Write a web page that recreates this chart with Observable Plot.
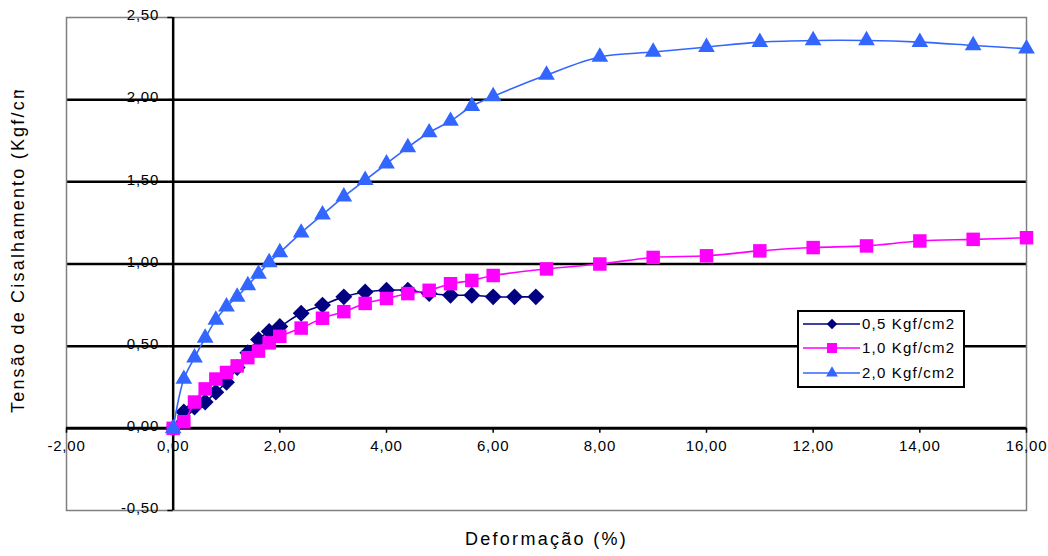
<!DOCTYPE html>
<html><head><meta charset="utf-8">
<script src="https://cdn.jsdelivr.net/npm/d3@7"></script>
<script src="https://cdn.jsdelivr.net/npm/@observablehq/plot@0.6"></script>
<style>
body{margin:0;background:#fff;}
#wrap{position:relative;width:1048px;height:556px;font-family:"Liberation Sans",Arial,sans-serif;}
#ytitle{position:absolute;left:6px;top:413px;width:323px;height:24px;line-height:24px;overflow:hidden;white-space:nowrap;transform-origin:0 0;transform:rotate(-90deg);font-size:18px;letter-spacing:2.2px;color:#000;}
#legend{position:absolute;left:797px;top:310px;width:164px;height:74px;border:2px solid #000;background:#fff;}
#legend .row{position:absolute;left:0;height:20px;width:164px;}
#legend .row svg{position:absolute;left:4px;top:0;}
#legend .row span{position:absolute;left:63px;top:0;line-height:20px;font-size:15px;letter-spacing:1.2px;white-space:nowrap;}
</style></head><body><div id="wrap"></div>
<script>
// ---- data ----
const seriesNames = ["0,5 Kgf/cm2", "1,0 Kgf/cm2", "2,0 Kgf/cm2"];
const strain05 = [0,0.2,0.4,0.6,0.8,1.0,1.2,1.4,1.6,1.8,2.0,2.4,2.8,3.2,3.6,4.0,4.4,4.8,5.2,5.6,6.0,6.4,6.8];
const stress05 = [0,0.10,0.13,0.16,0.22,0.28,0.37,0.46,0.54,0.59,0.62,0.70,0.75,0.80,0.83,0.84,0.84,0.82,0.81,0.81,0.80,0.80,0.80];
const strain10 = [0,0.2,0.4,0.6,0.8,1.0,1.2,1.4,1.6,1.8,2.0,2.4,2.8,3.2,3.6,4.0,4.4,4.8,5.2,5.6,6.0,7,8,9,10,11,12,13,14,15,16];
const stress10 = [0,0.04,0.16,0.24,0.30,0.34,0.38,0.43,0.47,0.52,0.56,0.61,0.67,0.71,0.76,0.79,0.82,0.84,0.88,0.90,0.93,0.97,1.00,1.04,1.05,1.08,1.10,1.11,1.14,1.15,1.16];
const strain20 = [0,0.2,0.4,0.6,0.8,1.0,1.2,1.4,1.6,1.8,2.0,2.4,2.8,3.2,3.6,4.0,4.4,4.8,5.2,5.6,6.0,7,8,9,10,11,12,13,14,15,16];
const stress20 = [0,0.30,0.43,0.55,0.66,0.74,0.80,0.87,0.94,1.01,1.07,1.19,1.30,1.41,1.51,1.61,1.71,1.80,1.87,1.96,2.02,2.15,2.26,2.29,2.32,2.35,2.36,2.36,2.35,2.33,2.31];
const xTicks = [-2,0,2,4,6,8,10,12,14,16];
const yTicks = [-0.5,0,0.5,1,1.5,2,2.5];
const gridY = [0.5,1,1.5,2];
const xTitle = "Deformação (%)";
const yTitle = "Tensão de Cisalhamento (Kgf/cm2)";

// ---- build ----
const fmt = v => v.toFixed(2).replace(".", ",");
const styles = [
  {color:"#000080", symbol:"diamond2", r:7.6, legSym:d3.symbolDiamond2, legSize:70},
  {color:"#FF00FF", symbol:"square", r:7.6, legSym:d3.symbolSquare, legSize:100},
  {color:"#3366FF", symbol:"triangle", r:6.2, legSym:d3.symbolTriangle, legSize:60}
];
const raw = [[strain05,stress05],[strain10,stress10],[strain20,stress20]];
const seriesRows = raw.map(([xs,ys],k)=>xs.map((x,i)=>({x, y:ys[i], s:seriesNames[k]})));

const seriesMarks = seriesRows.flatMap((rows,k)=>[
  Plot.line(rows,{x:"x",y:"y",stroke:styles[k].color,strokeWidth:1.6,curve:"catmull-rom"}),
  Plot.dot(rows,{x:"x",y:"y",symbol:()=>styles[k].symbol,r:styles[k].r,fill:styles[k].color,stroke:"none"})
]);

const chart = Plot.plot({
  width:1048, height:556,
  marginLeft:66, marginRight:22, marginTop:17, marginBottom:46,
  x:{domain:[-2,16], axis:null},
  y:{domain:[-0.5,2.5], axis:null},
  style:{fontFamily:"'Liberation Sans', Arial, sans-serif", fontSize:"15px", background:"#fff", color:"#000"},
  marks:[
    Plot.ruleY(gridY,{y:d=>d,stroke:"#000",strokeWidth:2.5}),
    Plot.frame({stroke:"#808080",strokeWidth:1.5}),
    Plot.ruleY([0],{y:d=>d,stroke:"#000",strokeWidth:3}),
    Plot.ruleX([0],{x:d=>d,stroke:"#000",strokeWidth:2.5}),
    Plot.ruleX(xTicks,{x:d=>d,y1:0,y2:-0.03,stroke:"#000",strokeWidth:1.5}),
    Plot.ruleY(yTicks,{y:d=>d,x1:0,x2:-0.1,stroke:"#000",strokeWidth:1.5}),
    Plot.text(xTicks,{x:d=>d,y:0,dy:18,text:fmt,fontSize:15}),
    Plot.text(yTicks,{x:0,y:d=>d,dx:-14,dy:-2,text:fmt,textAnchor:"end",fontSize:15}),
    Plot.text([xTitle],{frameAnchor:"bottom",dy:34,text:d=>d,fontSize:18}),
    ...seriesMarks
  ]
});
d3.select(chart).selectAll("text").each(function(){
  this.style.letterSpacing = (this.textContent === xTitle) ? "2.3px" : "0.8px";
});
const wrap = document.getElementById("wrap");
wrap.appendChild(chart);

const yt = document.createElement("div");
yt.id = "ytitle"; yt.textContent = yTitle;
wrap.appendChild(yt);

const leg = document.createElement("div");
leg.id = "legend";
const rowTops = [2, 26, 51];
seriesNames.forEach((name,k)=>{
  const row = document.createElement("div");
  row.className = "row"; row.style.top = rowTops[k]+"px";
  const svg = d3.create("svg").attr("width",60).attr("height",20);
  svg.append("line").attr("x1",0).attr("x2",57).attr("y1",10).attr("y2",10)
     .attr("stroke",styles[k].color).attr("stroke-width",1.6);
  svg.append("path").attr("transform","translate(29,10)")
     .attr("d",d3.symbol(styles[k].legSym, styles[k].legSize)()).attr("fill",styles[k].color);
  row.appendChild(svg.node());
  const sp = document.createElement("span"); sp.textContent = name;
  row.appendChild(sp);
  leg.appendChild(row);
});
wrap.appendChild(leg);
</script></body></html>
